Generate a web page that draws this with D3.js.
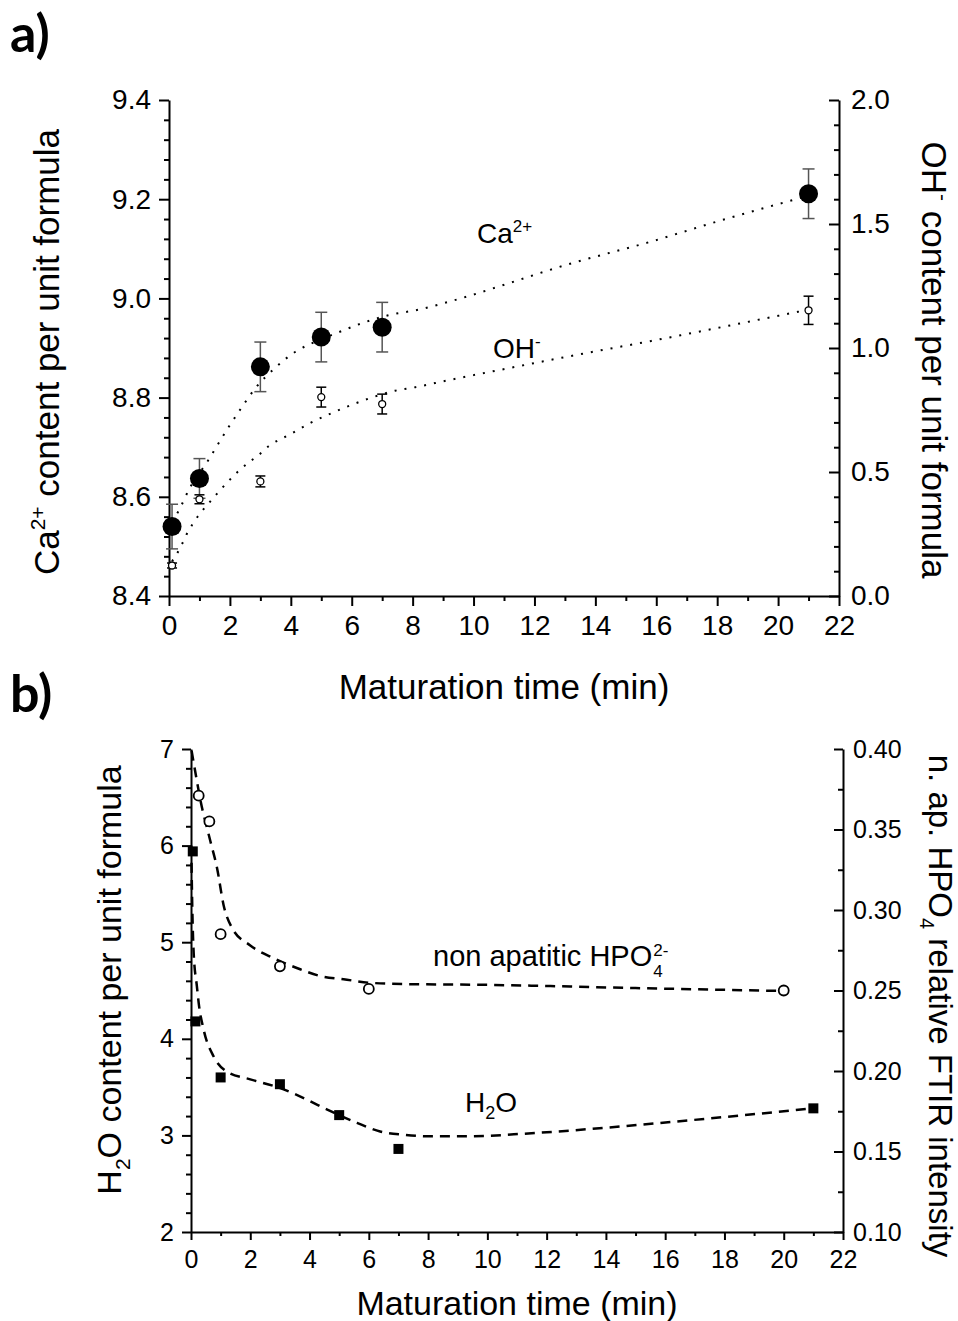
<!DOCTYPE html>
<html>
<head>
<meta charset="utf-8">
<script src="https://cdn.jsdelivr.net/npm/d3@7"></script>
<style>
  body { margin: 0; background: #fff; }
  svg { display: block; font-family: "Liberation Sans", Arial, sans-serif; }
  .axis path, .axis line { stroke: #000; stroke-width: 2; }
  .axis text { fill: #000; font-family: "Liberation Sans", Arial, sans-serif; }
</style>
</head>
<body>
<div id="chart"></div>
<script>
// ---- panel a : Ca2+ (left axis) and OH- (right axis) ----
const caTime = [0.1, 1, 3, 5, 7, 21];
const caValue = [8.54, 8.637, 8.862, 8.922, 8.942, 9.211];
const caError = [0.045, 0.04, 0.05, 0.05, 0.05, 0.05];

const ohTime = [0.1, 1, 3, 5, 7, 21];
const ohValue = [0.123, 0.39, 0.462, 0.802, 0.774, 1.152];
const ohError = [0.01, 0.018, 0.022, 0.04, 0.04, 0.057];

// dotted fit curves
const caFitTime = [0.1, 0.3, 0.7, 1.25, 1.9, 2.35, 2.85, 3.45, 4.14, 4.9, 5.5, 6.2, 7.2, 8.25, 9, 13.4, 15.8, 18, 21];
const caFitValue = [8.55, 8.57, 8.62, 8.67, 8.735, 8.777, 8.82, 8.858, 8.892, 8.915, 8.93, 8.947, 8.966, 8.978, 8.99, 9.074, 9.114, 9.155, 9.207];
const ohFitTime = [0.1, 0.24, 0.41, 0.58, 0.78, 1.02, 1.3, 1.58, 1.92, 2.25, 2.59, 2.94, 3.27, 3.96, 4.66, 5.35, 6.0, 6.7, 7.43, 8.09, 9.13, 11.13, 13.37, 15.77, 21];
const ohFitValue = [0.14, 0.166, 0.205, 0.249, 0.291, 0.333, 0.373, 0.413, 0.459, 0.5, 0.536, 0.568, 0.604, 0.651, 0.699, 0.738, 0.771, 0.802, 0.828, 0.842, 0.869, 0.918, 0.972, 1.027, 1.155];

// ---- panel b : H2O (left axis) and non apatitic HPO4 (right axis) ----
const h2oTime = [0.06, 0.15, 1, 3, 5, 7, 21];
const h2oValue = [5.94, 4.18, 3.6, 3.53, 3.21, 2.86, 3.28];
const hpoTime = [0.26, 0.62, 1, 3, 6, 20];
const hpoValue = [0.371, 0.355, 0.285, 0.265, 0.251, 0.25];

const h2oFitTime = [0.01, 0.03, 0.09, 0.2, 0.26, 0.43, 0.76, 1.21, 2.0, 3.01, 3.91, 4.58, 5.6, 6.38, 7.17, 8.07, 8.97, 10.09, 11.2, 12.34, 13.46, 15.15, 18, 21];
const h2oFitValue = [6.0, 5.58, 4.89, 4.54, 4.37, 4.09, 3.82, 3.66, 3.58, 3.49, 3.37, 3.27, 3.13, 3.04, 3.007, 2.99, 2.99, 2.997, 3.017, 3.04, 3.066, 3.11, 3.19, 3.28];
const hpoFitTime = [0.02, 0.2, 0.31, 0.65, 0.88, 1.1, 1.38, 2.0, 2.79, 3.57, 4.36, 5.15, 6.04, 7.17, 10, 15, 20];
const hpoFitValue = [0.399, 0.38, 0.369, 0.343, 0.326, 0.303, 0.289, 0.278, 0.27, 0.264, 0.259, 0.257, 0.2548, 0.254, 0.2535, 0.2515, 0.2497];

// tick labels
const timeTicks = [0, 2, 4, 6, 8, 10, 12, 14, 16, 18, 20, 22];
const caTicks = [8.4, 8.6, 8.8, 9.0, 9.2, 9.4];
const ohTicks = [0.0, 0.5, 1.0, 1.5, 2.0];
const h2oTicks = [2, 3, 4, 5, 6, 7];
const hpoTicks = [0.10, 0.15, 0.20, 0.25, 0.30, 0.35, 0.40];

const W = 958, H = 1321;
const svg = d3.select("#chart").append("svg").attr("width", W).attr("height", H);

function minorBetween(ticks, n) {
  const out = [];
  for (let i = 0; i < ticks.length - 1; i++) {
    const step = (ticks[i + 1] - ticks[i]) / n;
    for (let k = 1; k < n; k++) out.push(ticks[i] + k * step);
  }
  return out;
}

function addAxis(axis, transform, fontSize) {
  const g = svg.append("g").attr("class", "axis").attr("transform", transform).call(axis);
  g.selectAll("text").style("font-size", fontSize + "px");
  return g;
}

function addMinor(axis, transform) {
  const g = svg.append("g").attr("class", "axis").attr("transform", transform).call(axis);
  g.select(".domain").remove();
  return g;
}

// ================= panel a =================
const xA = d3.scaleLinear().domain([0, 22]).range([169, 839]);
const yA = d3.scaleLinear().domain([8.4, 9.4]).range([596, 100]);
const yA2 = d3.scaleLinear().domain([0, 2]).range([596, 100]);

addMinor(d3.axisBottom(xA).tickValues(minorBetween(timeTicks, 2)).tickSize(5).tickFormat(""), "translate(0,596)");
addMinor(d3.axisLeft(yA).tickValues(minorBetween(caTicks, 5)).tickSize(5).tickFormat(""), "translate(169,0)");
addMinor(d3.axisRight(yA2).tickValues(minorBetween(ohTicks, 5)).tickSizeInner(-5).tickSizeOuter(0).tickFormat(""), "translate(839,0)");

addAxis(d3.axisBottom(xA).tickValues(timeTicks).tickSize(10).tickSizeOuter(0).tickPadding(9).tickFormat(d3.format("d")), "translate(0,596)", 28);
addAxis(d3.axisLeft(yA).tickValues(caTicks).tickSize(10).tickSizeOuter(0).tickPadding(8).tickFormat(d3.format(".1f")), "translate(169,0)", 28);
addAxis(d3.axisRight(yA2).tickValues(ohTicks).tickSizeInner(-10).tickSizeOuter(0).tickPadding(12).tickFormat(d3.format(".1f")), "translate(839,0)", 28);

const dotted = d3.line().curve(d3.curveMonotoneX);

svg.append("path")
  .attr("d", dotted.x(d => xA(d[0])).y(d => yA(d[1]))(caFitTime.map((t, i) => [t, caFitValue[i]])))
  .attr("fill", "none").attr("stroke", "#000").attr("stroke-width", 2).attr("stroke-dasharray", "2,8");
svg.append("path")
  .attr("d", dotted.x(d => xA(d[0])).y(d => yA2(d[1]))(ohFitTime.map((t, i) => [t, ohFitValue[i]])))
  .attr("fill", "none").attr("stroke", "#000").attr("stroke-width", 2).attr("stroke-dasharray", "2,8");

function errorBars(times, values, errors, x, y, cap, color) {
  const g = svg.append("g").attr("stroke", color).attr("stroke-width", 1.5);
  times.forEach((t, i) => {
    const cx = x(t), top = y(values[i] + errors[i]), bot = y(values[i] - errors[i]);
    g.append("line").attr("x1", cx).attr("x2", cx).attr("y1", top).attr("y2", bot);
    g.append("line").attr("x1", cx - cap).attr("x2", cx + cap).attr("y1", top).attr("y2", top);
    g.append("line").attr("x1", cx - cap).attr("x2", cx + cap).attr("y1", bot).attr("y2", bot);
  });
}

errorBars(caTime, caValue, caError, xA, yA, 6, "#555");
errorBars(ohTime, ohValue, ohError, xA, yA2, 5, "#000");

svg.append("g").selectAll("circle").data(caTime).join("circle")
  .attr("cx", d => xA(d)).attr("cy", (d, i) => yA(caValue[i])).attr("r", 9.5).attr("fill", "#000");
svg.append("g").selectAll("circle").data(ohTime).join("circle")
  .attr("cx", d => xA(d)).attr("cy", (d, i) => yA2(ohValue[i])).attr("r", 3.5)
  .attr("fill", "#fff").attr("stroke", "#000").attr("stroke-width", 1.3);

// in-plot labels
const caLabel = svg.append("text").attr("x", 477).attr("y", 243).style("font-size", "28px");
caLabel.append("tspan").text("Ca");
caLabel.append("tspan").attr("dy", -11).style("font-size", "17px").text("2+");
const ohLabel = svg.append("text").attr("x", 493).attr("y", 358).style("font-size", "28px");
ohLabel.append("tspan").text("OH");
ohLabel.append("tspan").attr("dy", -11).style("font-size", "17px").text("-");

// axis titles
svg.append("text").attr("x", 504).attr("y", 699).attr("text-anchor", "middle")
  .style("font-size", "35px").text("Maturation time (min)");

const aLeft = svg.append("text").attr("transform", "translate(59,352) rotate(-90)")
  .attr("text-anchor", "middle").style("font-size", "35px");
aLeft.append("tspan").text("Ca");
aLeft.append("tspan").attr("dy", -14).style("font-size", "21px").text("2+");
aLeft.append("tspan").attr("dy", 14).text(" content per unit formula");

const aRight = svg.append("text").attr("transform", "translate(922,360) rotate(90)")
  .attr("text-anchor", "middle").style("font-size", "35px");
aRight.append("tspan").text("OH");
aRight.append("tspan").attr("dy", -14).style("font-size", "21px").text("-");
aRight.append("tspan").attr("dy", 14).text(" content per unit formula");

svg.append("text").attr("x", 10).attr("y", 52).style("font-family", "Lato, 'Open Sans', sans-serif")
  .style("font-weight", "bold").style("font-size", "52px").text("a)");

// ================= panel b =================
const xB = d3.scaleLinear().domain([0, 22]).range([191, 843]);
const yB = d3.scaleLinear().domain([2, 7]).range([1232, 749]);
const yB2 = d3.scaleLinear().domain([0.1, 0.4]).range([1232, 749]);

addMinor(d3.axisBottom(xB).tickValues(minorBetween(timeTicks, 2)).tickSize(4).tickFormat(""), "translate(0,1232)");
addMinor(d3.axisLeft(yB).tickValues(minorBetween(h2oTicks, 5)).tickSize(5).tickFormat(""), "translate(191,0)");
addMinor(d3.axisRight(yB2).tickValues(minorBetween(hpoTicks, 2)).tickSizeInner(-5).tickSizeOuter(0).tickFormat(""), "translate(843,0)");

addAxis(d3.axisBottom(xB).tickValues(timeTicks).tickSize(8).tickSizeOuter(0).tickPadding(10).tickFormat(d3.format("d")), "translate(0,1232)", 25);
addAxis(d3.axisLeft(yB).tickValues(h2oTicks).tickSize(9).tickSizeOuter(0).tickPadding(8).tickFormat(d3.format("d")), "translate(191,0)", 25);
addAxis(d3.axisRight(yB2).tickValues(hpoTicks).tickSizeInner(-9).tickSizeOuter(0).tickPadding(10).tickFormat(d3.format(".2f")), "translate(843,0)", 25);

const dashed = d3.line().curve(d3.curveMonotoneX);
svg.append("path")
  .attr("d", dashed.x(d => xB(d[0])).y(d => yB(d[1]))(h2oFitTime.map((t, i) => [t, h2oFitValue[i]])))
  .attr("fill", "none").attr("stroke", "#000").attr("stroke-width", 2.5).attr("stroke-dasharray", "10,7");
svg.append("path")
  .attr("d", dashed.x(d => xB(d[0])).y(d => yB2(d[1]))(hpoFitTime.map((t, i) => [t, hpoFitValue[i]])))
  .attr("fill", "none").attr("stroke", "#000").attr("stroke-width", 2.5).attr("stroke-dasharray", "10,7");

svg.append("g").selectAll("rect").data(h2oTime).join("rect")
  .attr("x", d => xB(d) - 5).attr("y", (d, i) => yB(h2oValue[i]) - 5)
  .attr("width", 10).attr("height", 10).attr("fill", "#000");
svg.append("g").selectAll("circle").data(hpoTime).join("circle")
  .attr("cx", d => xB(d)).attr("cy", (d, i) => yB2(hpoValue[i])).attr("r", 5)
  .attr("fill", "#fff").attr("stroke", "#000").attr("stroke-width", 1.8);

// in-plot labels
const hpoLabel = svg.append("text").attr("x", 433).attr("y", 966).style("font-size", "29px").text("non apatitic HPO");
const hpoEnd = 433 + hpoLabel.node().getComputedTextLength() + 1;
svg.append("text").attr("x", hpoEnd).attr("y", 977).style("font-size", "17px").text("4");
svg.append("text").attr("x", hpoEnd).attr("y", 956).style("font-size", "17px").text("2-");

const h2oLabel = svg.append("text").attr("x", 465).attr("y", 1112).style("font-size", "28px");
h2oLabel.append("tspan").text("H");
h2oLabel.append("tspan").attr("dy", 7).style("font-size", "18px").text("2");
h2oLabel.append("tspan").attr("dy", -7).text("O");

// axis titles
svg.append("text").attr("x", 517).attr("y", 1315).attr("text-anchor", "middle")
  .style("font-size", "34px").text("Maturation time (min)");

const bLeft = svg.append("text").attr("transform", "translate(121,980) rotate(-90)")
  .attr("text-anchor", "middle").style("font-size", "34px");
bLeft.append("tspan").text("H");
bLeft.append("tspan").attr("dy", 9).style("font-size", "21px").text("2");
bLeft.append("tspan").attr("dy", -9).text("O content per unit formula");

const bRight = svg.append("text").attr("transform", "translate(929,1006) rotate(90)")
  .attr("text-anchor", "middle").style("font-size", "33px");
bRight.append("tspan").text("n. ap. HPO");
bRight.append("tspan").attr("dy", 9).style("font-size", "20px").text("4");
bRight.append("tspan").attr("dy", -9).text(" relative FTIR intensity");

svg.append("text").attr("x", 10).attr("y", 712).style("font-family", "Lato, 'Open Sans', sans-serif")
  .style("font-weight", "bold").style("font-size", "52px").text("b)");
</script>
</body>
</html>
